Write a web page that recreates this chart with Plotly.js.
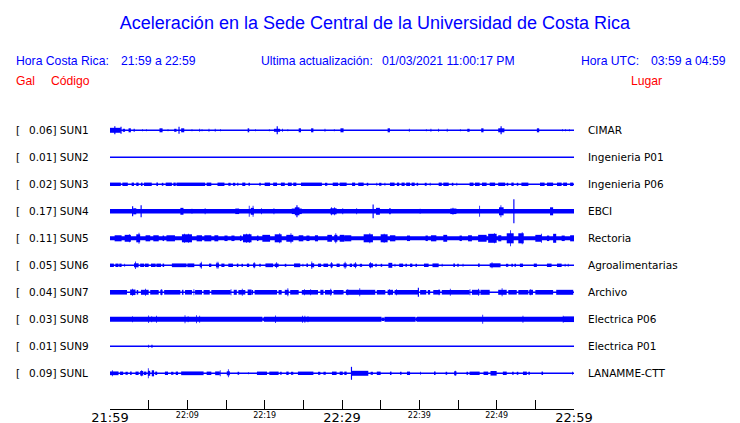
<!DOCTYPE html>
<html>
<head>
<meta charset="utf-8">
<script src="https://cdn.plot.ly/plotly-3.0.1.min.js"></script>
<style>html,body{margin:0;padding:0;background:#fff;}#chart{width:740px;height:423px;}</style>
</head>
<body>
<div id="chart"></div>
<script>
// ---------------- data ----------------
const CODES  = ['SUN1','SUN2','SUN3','SUN4','SUN5','SUN6','SUN7','SUN8','SUN9','SUNL'];
const PEAKS  = ['0.06','0.01','0.02','0.17','0.11','0.05','0.04','0.03','0.01','0.09'];
const PLACES = ['CIMAR','Ingenieria P01','Ingenieria P06','EBCI','Rectoria','Agroalimentarias','Archivo','Electrica P06','Electrica P01','LANAMME-CTT'];

// time axis: minutes after 21:59
const TICK_MINUTES  = [0,5,10,15,20,25,30,35,40,45,50,55,60];
const MAJOR_MINUTES = [0,30,60];
const MAJOR_LABELS  = ['21:59','22:29','22:59'];
const MINOR_MINUTES = [10,20,40,50];
const MINOR_LABELS  = ['22:09','22:19','22:39','22:49'];

// signal envelope segments per station: [start minute, end minute, half amplitude (Gal)]
const EV_SUN1 = [[0.0,1.4,0.036],[0.55,0.7,0.058],[1.35,1.5,0.05],[1.65,1.95,0.022],[2.4,2.7,0.029],[3.05,3.2,0.022],[4.15,4.25,0.015],[4.65,4.75,0.015],[6.4,6.8,0.029],[7.45,7.55,0.015],[8.3,8.6,0.022],[8.85,9.0,0.05],[9.2,9.6,0.029],[10.55,10.65,0.015],[11.55,11.65,0.022],[11.85,11.95,0.015],[12.75,12.85,0.022],[13.55,13.65,0.022],[14.25,14.35,0.015],[17.8,18.0,0.029],[18.75,18.85,0.015],[20.55,20.65,0.015],[21.2,22.0,0.022],[21.55,21.7,0.058],[22.25,22.35,0.022],[22.95,23.05,0.015],[24.4,24.7,0.029],[26.0,26.3,0.029],[27.75,27.85,0.022],[28.95,29.05,0.015],[29.8,30.2,0.029],[35.9,36.2,0.029],[38.65,38.75,0.022],[40.85,40.95,0.015],[41.45,41.55,0.022],[42.45,42.55,0.022],[43.55,43.65,0.022],[45.25,45.35,0.015],[46.2,46.5,0.022],[48.0,48.3,0.029],[50.2,51.0,0.029],[50.5,50.65,0.058],[55.2,55.5,0.029],[58.45,58.55,0.015],[58.85,58.95,0.015],[59.35,59.45,0.015]];
const EV_SUN2 = [];
const EV_SUN3 = [[0,1.4,.025],[1.6,2.3,.025],[2.8,3.1,.025],[3.4,3.7,.025],[4.0,4.2,.025],[4.4,5.4,.025],[6.0,6.2,.025],[6.7,6.9,.022],[7.2,8.0,.025],[8.2,8.5,.025],[8.6,12.3,.025],[12.5,13.1,.025],[13.9,14.8,.025],[15.3,15.6,.022],[15.9,16.2,.022],[16.45,16.6,.022],[17.1,17.5,.025],[17.9,18.1,.022],[19.3,19.5,.022],[20.0,20.7,.025],[21.1,21.6,.025],[22.1,22.6,.025],[23.0,23.5,.025],[23.7,24.1,.025],[24.7,27.4,.025],[27.8,28.1,.022],[28.8,29.5,.025],[29.7,30.6,.025],[31.3,31.7,.025],[32.1,32.8,.025],[33.2,33.4,.022],[34.45,34.55,.022],[34.8,35.1,.022],[35.5,35.6,.022],[36.2,36.8,.025],[37.1,37.4,.025],[37.7,38.1,.025],[38.3,38.8,.025],[39.0,39.4,.025],[39.65,39.85,.022],[40.7,40.95,.022],[41.35,41.45,.022],[42.5,42.9,.025],[43.1,43.8,.025],[44.2,44.4,.022],[44.8,44.9,.022],[46.5,47.0,.025],[47.2,47.8,.025],[48.1,48.7,.025],[49.1,49.8,.025],[50.2,51.1,.025],[51.3,51.5,.022],[51.9,52.2,.025],[52.6,52.8,.022],[53.2,54.1,.025],[55.6,56.2,.025],[56.5,57.3,.025],[57.8,58.4,.025],[58.6,59.1,.025],[59.5,59.9,.025]];
const EV_SUN4 = [[0,60,0.033],[2.85,3.0,0.073],[3.0,3.4,0.044],[3.95,4.1,0.087],[9.1,9.5,0.05],[10.55,10.65,0.036],[12.25,12.35,0.044],[16.2,16.7,0.04],[17.95,18.05,0.08],[18.2,18.6,0.05],[18.45,18.55,0.08],[19.55,19.65,0.044],[21.15,21.25,0.044],[23.5,24.8,0.04],[23.9,24.5,0.058],[24.1,24.25,0.087],[28.5,29.3,0.044],[28.6,28.7,0.058],[29.0,29.1,0.058],[30.05,30.15,0.044],[31.85,31.95,0.044],[33.95,34.1,0.1],[34.4,34.9,0.05],[36.1,36.3,0.044],[40.05,40.15,0.036],[44.0,44.8,0.04],[44.3,44.4,0.05],[47.75,47.85,0.08],[50.3,50.9,0.058],[50.5,50.6,0.087],[52.15,52.3,0.174],[56.9,57.3,0.058]];
const EV_SUN5 = [[0,60,0.029],[0.6,1.5,0.044],[1.9,2.7,0.05],[2.45,2.55,0.058],[3.4,3.9,0.058],[3.7,3.8,0.08],[4.6,5.2,0.044],[5.6,6.3,0.044],[6.8,7.0,0.04],[7.3,8.4,0.044],[9.3,10.6,0.058],[9.6,9.7,0.065],[10.1,10.2,0.065],[11.2,11.9,0.044],[12.2,13.1,0.044],[13.5,14.0,0.044],[14.8,15.2,0.04],[15.7,16.1,0.04],[16.8,17.0,0.04],[17.2,18.3,0.058],[17.6,17.7,0.065],[18.0,18.1,0.065],[19.0,19.2,0.04],[19.7,20.7,0.05],[21.3,22.2,0.058],[21.9,22.0,0.073],[22.8,23.7,0.05],[23.35,23.45,0.073],[24.4,25.0,0.044],[25.4,25.8,0.04],[26.5,26.9,0.044],[28.1,28.7,0.05],[29.0,29.4,0.05],[29.15,29.25,0.073],[29.7,30.3,0.05],[30.3,31.2,0.044],[32.8,34.0,0.058],[33.55,33.65,0.073],[35.0,35.9,0.058],[35.4,35.5,0.065],[36.2,36.9,0.044],[38.4,38.8,0.04],[40.8,41.1,0.04],[41.5,42.2,0.044],[43.1,43.6,0.05],[45.2,45.5,0.04],[46.3,46.8,0.044],[47.6,48.7,0.05],[48.9,50.0,0.065],[49.65,49.75,0.073],[50.2,50.6,0.044],[51.3,52.2,0.073],[51.75,51.85,0.116],[52.8,53.5,0.073],[53.25,53.35,0.087],[55.0,55.8,0.05],[55.75,55.85,0.065],[56.5,56.8,0.04],[57.3,57.7,0.065],[58.4,58.8,0.04],[59.5,60,0.044]];
const EV_SUN6 = [[0,0.5,.025],[0.7,1.1,.025],[1.2,1.5,.025],[1.85,1.95,.022],[3.1,3.7,.029],[3.25,3.35,.054],[3.9,4.4,.025],[4.5,5.0,.025],[5.3,5.9,.025],[6.0,6.6,.025],[6.8,7.0,.025],[8.0,9.9,.027],[10.0,10.9,.027],[11.6,11.9,.029],[11.75,11.85,.05],[12.8,13.1,.025],[13.7,14.1,.029],[13.8,13.9,.05],[14.0,14.05,.05],[14.4,14.8,.025],[15.3,15.9,.025],[16.4,16.6,.025],[17.0,17.2,.022],[17.7,18.0,.025],[18.5,18.8,.029],[18.6,18.7,.044],[19.3,19.5,.022],[20.1,21.1,.027],[21.3,21.8,.025],[21.5,21.6,.044],[22.6,22.8,.022],[23.8,24.6,.027],[24.9,25.0,.022],[25.4,25.6,.025],[26.0,26.4,.029],[26.05,26.15,.054],[26.9,27.3,.025],[27.6,28.2,.025],[28.5,28.8,.029],[28.6,28.7,.044],[29.3,29.7,.025],[30.2,30.6,.029],[30.35,30.45,.05],[31.0,31.3,.025],[31.5,31.9,.025],[31.7,31.8,.044],[32.3,32.6,.022],[33.5,34.0,.029],[33.65,33.75,.044],[34.3,34.5,.022],[35.0,35.2,.022],[36.0,36.5,.036],[36.8,36.9,.022],[37.4,37.9,.025],[38.2,38.4,.022],[38.8,39.1,.025],[39.5,39.7,.022],[40.6,41.2,.025],[41.7,42.5,.027],[42.9,43.0,.022],[44.4,44.6,.025],[44.9,45.1,.022],[45.6,45.7,.022],[47.6,47.8,.025],[49.1,50.5,.029],[49.35,49.45,.044],[51.2,51.5,.022],[51.9,52.1,.022],[52.3,52.5,.022],[53.0,53.4,.025],[54.8,55.2,.025],[56.5,57.1,.025],[57.8,58.4,.025],[58.8,58.9,.022],[59.2,59.3,.022]];
const EV_SUN7 = [[0,2.2,.033],[2.6,3.3,.04],[2.85,2.95,.05],[3.45,3.65,.033],[4.0,5.0,.036],[4.55,4.65,.05],[5.2,6.3,.033],[6.5,6.8,.036],[6.6,6.7,.044],[7.0,9.1,.033],[9.3,9.5,.036],[9.7,10.6,.033],[10.8,10.9,.044],[11.0,11.9,.033],[12.1,12.9,.033],[13.1,15.6,.033],[15.6,15.7,.044],[16.0,16.4,.036],[16.6,17.5,.033],[17.05,17.15,.05],[17.8,18.3,.04],[18.3,18.5,.033],[18.7,21.6,.033],[21.8,22.2,.033],[22.6,23.1,.036],[22.95,23.05,.058],[23.3,24.4,.033],[24.8,26.9,.033],[25.1,25.2,.044],[25.9,26.0,.044],[27.2,27.6,.036],[27.8,28.7,.033],[28.5,28.6,.05],[28.9,30.0,.033],[30.0,30.2,.033],[30.5,34.3,.036],[30.7,30.8,.044],[32.25,32.35,.058],[34.5,35.6,.033],[35.9,36.6,.036],[36.1,36.2,.044],[36.8,39.9,.033],[37.0,37.1,.044],[39.8,39.95,.065],[40.1,40.9,.033],[41.1,41.4,.033],[41.8,42.7,.033],[42.5,42.6,.044],[42.9,46.5,.033],[43.95,44.05,.05],[46.5,46.6,.044],[46.8,47.8,.036],[47.6,47.7,.05],[47.9,49.1,.036],[50.2,51.3,.036],[50.65,50.75,.058],[51.5,52.6,.033],[52.8,54.1,.033],[54.2,54.7,.036],[54.35,54.45,.044],[55.0,57.3,.033],[57.7,59.9,.036]];
const EV_SUN8 = [[0,19.7,.036],[19.7,19.9,.025],[19.9,35.1,.036],[35.1,35.5,.025],[35.5,39.5,.036],[39.5,39.7,.029],[39.7,60,.036],[2.85,2.95,.044],[4.95,5.05,.054],[5.35,5.45,.044],[5.95,6.05,.05],[9.65,9.75,.058],[10.05,10.15,.044],[11.15,11.25,.058],[11.55,11.65,.05],[21.35,21.45,.054],[24.85,24.95,.05],[25.15,25.25,.05],[25.55,25.65,.044],[48.15,48.25,.065],[53.35,53.45,.05],[58.55,58.65,.05],[58.6,60,.04]];
const EV_SUN9 = [[4.95,5.05,.022],[5.35,5.5,.022]];
const EV_SUNL = [[0,1.1,.027],[0.25,0.35,.044],[1.3,1.7,.025],[2.0,2.3,.022],[2.6,2.8,.025],[3.3,3.7,.025],[3.9,4.3,.033],[4.05,4.15,.044],[4.4,4.7,.025],[4.9,5.2,.036],[4.9,5.0,.073],[5.4,5.7,.044],[5.85,6.1,.025],[7.1,7.5,.025],[7.9,8.2,.022],[8.5,8.8,.025],[9.2,12.1,.027],[12.5,13.1,.025],[13.6,14.2,.027],[14.2,14.3,.044],[15.1,15.5,.029],[15.25,15.35,.058],[16.5,16.7,.022],[17.85,17.95,.015],[19.0,20.3,.025],[20.6,21.8,.025],[22.0,22.2,.022],[22.8,23.1,.025],[23.4,23.7,.022],[24.3,26.3,.025],[26.9,27.2,.022],[27.6,27.9,.022],[28.7,29.3,.025],[29.7,30.1,.025],[30.3,30.6,.025],[31.15,31.3,.094],[31.2,33.4,.036],[33.7,34.0,.022],[34.5,35.0,.025],[36.2,36.4,.025],[37.5,37.7,.022],[38.4,38.8,.025],[40.1,40.2,.022],[41.9,42.1,.025],[43.4,43.6,.022],[44.5,44.8,.029],[44.6,44.7,.036],[46.1,46.3,.022],[46.5,47.8,.025],[48.3,48.9,.025],[49.2,50.0,.033],[50.8,51.3,.025],[52.0,52.2,.022],[52.6,52.8,.022],[53.4,53.9,.025],[54.1,54.3,.022],[55.8,56.0,.025],[59.75,59.85,.022]];
const EVENTS = [EV_SUN1,EV_SUN2,EV_SUN3,EV_SUN4,EV_SUN5,EV_SUN6,EV_SUN7,EV_SUN8,EV_SUN9,EV_SUNL];

// ---------------- layout geometry ----------------
const W = 740, H = 423;
const PL = 110, PR = 574, PT = 110, PB = 409;     // plot area in pixels
const GAL_PER_PX = 0.0145;
const ROW_PX = 27, FIRST_ROW_PX = 130.3;
const SP = ROW_PX * GAL_PER_PX;
const yTop = (FIRST_ROW_PX - PT) * GAL_PER_PX;
const yBot = yTop - (PB - PT) * GAL_PER_PX;
const BLUE = '#0000ff';

const px = x => (x - PL) / (PR - PL);
const py = y => (PB - y) / (PB - PT);

const traces = [];
CODES.forEach((code, i) => {
  const off = -i * SP;
  traces.push({
    type: 'scatter', mode: 'lines', x: [0, 60], y: [off, off],
    line: {color: BLUE, width: 1.4}, hoverinfo: 'skip', showlegend: false
  });
  const ev = EVENTS[i];
  if (ev.length) {
    traces.push({
      type: 'bar',
      x: ev.map(e => (e[0] + e[1]) / 2),
      width: ev.map(e => e[1] - e[0]),
      base: ev.map(e => off - e[2]),
      y: ev.map(e => 2 * e[2]),
      marker: {color: BLUE, line: {width: 0}},
      hoverinfo: 'skip', showlegend: false
    });
  }
});
// secondary axis trace for small tick labels
traces.push({type: 'scatter', mode: 'markers', x: [0], y: [yTop], xaxis: 'x2', marker: {opacity: 0}, hoverinfo: 'skip', showlegend: false});

const annotations = [];
const hdrFont = (c) => ({family: 'Liberation Sans, Arial, sans-serif', size: 12.2, color: c});
const lblFont = {family: 'DejaVu Sans, sans-serif', size: 10.5, color: '#000'};
function ann(text, x, y, font, anchor) {
  annotations.push({text: text, xref: 'paper', yref: 'paper', x: px(x), y: py(y),
    xanchor: anchor || 'left', yanchor: 'middle', showarrow: false, font: font, borderpad: 0});
}
ann('Hora Costa Rica:', 15, 61, hdrFont(BLUE));
ann('21:59 a 22:59', 119.5, 61, hdrFont(BLUE));
ann('Ultima actualización:', 259.5, 61, hdrFont(BLUE));
ann('01/03/2021 11:00:17 PM', 381, 61, hdrFont(BLUE));
ann('Hora UTC:', 580, 61, hdrFont(BLUE));
ann('03:59 a 04:59', 650, 61, hdrFont(BLUE));
ann('Gal', 15, 81, hdrFont('#ff0000'));
ann('Código', 50, 81, hdrFont('#ff0000'));
ann('Lugar', 630, 81, hdrFont('#ff0000'));

CODES.forEach((code, i) => {
  const yPix = FIRST_ROW_PX + i * ROW_PX;
  ann('[', 15, yPix, lblFont);
  ann(PEAKS[i] + '] ' + code, 27.5, yPix, lblFont);
  ann(PLACES[i], 587, yPix, lblFont);
});

const layout = {
  width: W, height: H,
  paper_bgcolor: '#fff', plot_bgcolor: '#fff',
  margin: {l: PL, r: W - PR, t: PT, b: H - PB, pad: 0},
  showlegend: false,
  barmode: 'overlay',
  title: {
    text: 'Aceleración en la Sede Central de la Universidad de Costa Rica',
    xref: 'container', yref: 'container', x: 375 / W, y: 1 - 23 / H,
    xanchor: 'center', yanchor: 'middle',
    font: {family: 'Liberation Sans, Arial, sans-serif', size: 18, color: BLUE}
  },
  xaxis: {
    range: [0, 60], showgrid: false, zeroline: false,
    showline: true, linecolor: '#000', linewidth: 1,
    ticks: 'inside', ticklen: 9, tickwidth: 1, tickcolor: '#000',
    tickmode: 'array', tickvals: TICK_MINUTES,
    ticktext: TICK_MINUTES.map(m => { const k = MAJOR_MINUTES.indexOf(m); return k >= 0 ? MAJOR_LABELS[k] : ''; }),
    tickfont: {family: 'DejaVu Sans, sans-serif', size: 13, color: '#000'},
    ticklabelstandoff: -4,
    fixedrange: true
  },
  xaxis2: {
    overlaying: 'x', anchor: 'y', side: 'bottom', matches: 'x',
    range: [0, 60], showgrid: false, zeroline: false, showline: false, ticks: '',
    tickmode: 'array', tickvals: MINOR_MINUTES, ticktext: MINOR_LABELS,
    tickfont: {family: 'DejaVu Sans, sans-serif', size: 8, color: '#000'},
    ticklabelstandoff: 2.5
  },
  yaxis: {range: [yBot, yTop], visible: false, showgrid: false, zeroline: false, fixedrange: true},
  annotations: annotations
};

Plotly.newPlot('chart', traces, layout, {displayModeBar: false, staticPlot: true});
</script>
</body>
</html>
